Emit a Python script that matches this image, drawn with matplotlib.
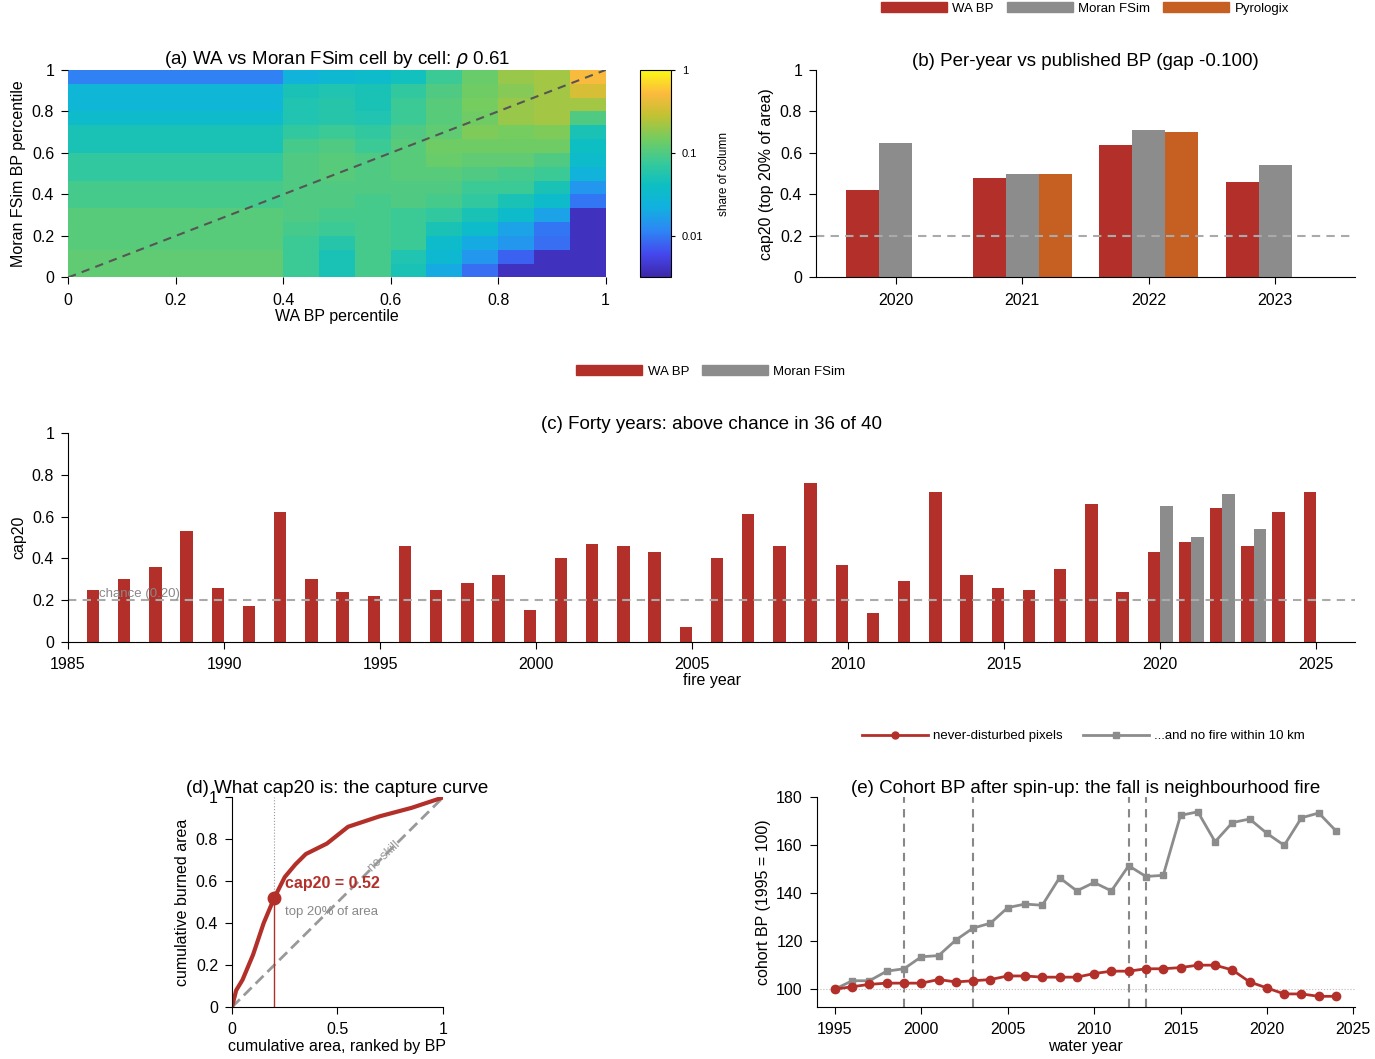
import numpy as np
import matplotlib
matplotlib.use("Agg")
import matplotlib.pyplot as plt
from matplotlib.colors import LinearSegmentedColormap, LogNorm
from matplotlib.patches import Patch
from matplotlib.lines import Line2D

plt.rcParams['font.family'] = ['Liberation Sans', 'DejaVu Sans']
plt.rcParams['font.size'] = 11.5
plt.rcParams['xtick.major.pad'] = 6
plt.rcParams['ytick.major.pad'] = 5
plt.rcParams['xtick.major.size'] = 5
plt.rcParams['ytick.major.size'] = 5

RED = "#b3302a"
GREY = "#8c8c8c"
ORANGE = "#c55f22"

# (a) share of column, rows bottom->top, columns left->right
x_edges = [0, 0.4, 0.4667, 0.5333, 0.6, 0.6667, 0.7333, 0.8, 0.8667, 0.9333, 1.0]
share_cols = [
    [0.12, 0.12, 0.11, 0.11, 0.11, 0.09, 0.09, 0.07, 0.07, 0.05, 0.05, 0.035, 0.028, 0.028, 0.011],
    [0.08, 0.08, 0.08, 0.09, 0.1, 0.1, 0.1, 0.1, 0.1, 0.09, 0.07, 0.055, 0.055, 0.05, 0.025],
    [0.05, 0.05, 0.06, 0.08, 0.09, 0.1, 0.1, 0.11, 0.11, 0.1, 0.08, 0.06, 0.06, 0.055, 0.03],
    [0.09, 0.09, 0.09, 0.09, 0.09, 0.09, 0.1, 0.1, 0.1, 0.08, 0.07, 0.055, 0.05, 0.05, 0.035],
    [0.05, 0.055, 0.08, 0.08, 0.08, 0.1, 0.1, 0.11, 0.11, 0.11, 0.1, 0.08, 0.08, 0.07, 0.045],
    [0.02, 0.03, 0.035, 0.05, 0.07, 0.09, 0.1, 0.11, 0.13, 0.14, 0.12, 0.11, 0.11, 0.1, 0.08],
    [0.009, 0.015, 0.02, 0.035, 0.05, 0.07, 0.08, 0.1, 0.12, 0.14, 0.16, 0.14, 0.15, 0.14, 0.13],
    [0.004, 0.008, 0.015, 0.018, 0.035, 0.05, 0.08, 0.09, 0.12, 0.14, 0.15, 0.2, 0.2, 0.17, 0.2],
    [0.004, 0.004, 0.009, 0.01, 0.018, 0.035, 0.05, 0.08, 0.1, 0.14, 0.16, 0.22, 0.22, 0.22, 0.22],
    [0.004, 0.004, 0.004, 0.004, 0.004, 0.01, 0.015, 0.025, 0.035, 0.04, 0.05, 0.1, 0.22, 0.35, 0.5],
]

# (b)
b_years = ["2020", "2021", "2022", "2023"]
b_wa = [0.42, 0.48, 0.64, 0.46]
b_moran = [0.65, 0.50, 0.71, 0.54]
b_pyro = [None, 0.50, 0.70, None]

# (c)
c_years = list(range(1986, 2026))
c_wa = [0.25, 0.30, 0.36, 0.53, 0.26, 0.17, 0.62, 0.30, 0.24, 0.22,
        0.46, 0.25, 0.28, 0.32, 0.15, 0.40, 0.47, 0.46, 0.43, 0.07,
        0.40, 0.61, 0.46, 0.76, 0.37, 0.14, 0.29, 0.72, 0.32, 0.26,
        0.25, 0.35, 0.66, 0.24, 0.43, 0.48, 0.64, 0.46, 0.62, 0.72]
c_moran_years = [2020, 2021, 2022, 2023]
c_moran = [0.65, 0.50, 0.71, 0.54]

# (d)
d_x = [0, 0.02, 0.05, 0.1, 0.15, 0.2, 0.25, 0.3, 0.35, 0.45, 0.55, 0.7, 0.85, 1.0]
d_y = [0, 0.08, 0.13, 0.25, 0.4, 0.52, 0.62, 0.68, 0.73, 0.78, 0.86, 0.91, 0.95, 1.0]

# (e)
e_years = list(range(1995, 2025))
e_never = [100, 101, 102, 102.5, 102.5, 102.5, 104, 103, 103.5, 104,
           105.5, 105.5, 105, 105, 105, 106.5, 107.5, 107.5, 108.5, 108.5,
           109, 110, 110, 108, 103, 100.5, 98, 98, 97, 97]
e_nofire = [100, 103.5, 103.5, 107.5, 108.5, 113.5, 114, 120.5, 125.5, 127.5,
            134, 135.5, 135, 146.5, 141, 144.5, 141, 151.5, 147, 147.5,
            172.5, 174, 161.5, 169.5, 171, 165, 160, 171.5, 173.5, 166]
e_vlines = [1999, 2003, 2012, 2013]

parula = LinearSegmentedColormap.from_list("parula", [
    (0.24, 0.15, 0.66), (0.27, 0.28, 0.93), (0.18, 0.52, 0.96), (0.07, 0.69, 0.88),
    (0.05, 0.75, 0.76), (0.22, 0.79, 0.60), (0.45, 0.80, 0.38), (0.75, 0.76, 0.20),
    (0.99, 0.73, 0.24), (0.98, 0.98, 0.08)])

TICKS01 = [0, 0.2, 0.4, 0.6, 0.8, 1]
LAB01 = ["0", "0.2", "0.4", "0.6", "0.8", "1"]


def strip(ax):
    ax.spines['top'].set_visible(False)
    ax.spines['right'].set_visible(False)


fig = plt.figure(figsize=(13.75, 10.59), dpi=100)

# ---- (a)
ax = fig.add_axes([0.0495, 0.738, 0.391, 0.196])
C = np.array(share_cols).T
y_edges = np.linspace(0, 1, 16)
mesh = ax.pcolormesh(x_edges, y_edges, C, cmap=parula, norm=LogNorm(0.0032, 1))
ax.plot([0, 1], [0, 1], ls=(0, (4, 3)), color="#555555", lw=1.5)
ax.set_xlim(0, 1); ax.set_ylim(0, 1)
ax.set_xticks(TICKS01); ax.set_xticklabels(LAB01)
ax.set_yticks(TICKS01); ax.set_yticklabels(LAB01)
ax.set_xlabel("WA BP percentile", labelpad=1)
ax.set_ylabel("Moran FSim BP percentile")
ax.set_title(r"(a) WA vs Moran FSim cell by cell: $\rho$ 0.61", fontsize=13.5, pad=2)
for s in ax.spines.values():
    s.set_visible(False)
cax = fig.add_axes([0.4655, 0.738, 0.0225, 0.196])
cb = fig.colorbar(mesh, cax=cax)
cb.set_ticks([0.01, 0.1, 1]); cb.set_ticklabels(["0.01", "0.1", "1"])
cb.ax.tick_params(labelsize=8, which='both', length=3)
cb.ax.minorticks_off()
cb.set_label("share of column", fontsize=8.5, labelpad=10)

# ---- (b)
ax = fig.add_axes([0.5935, 0.738, 0.392, 0.196])
strip(ax)
w = 0.26
xb = np.arange(len(b_years))
ax.bar(xb - w, b_wa, w, color=RED)
ax.bar(xb, b_moran, w, color=GREY)
for i, v in enumerate(b_pyro):
    if v is not None:
        ax.bar(xb[i] + w, v, w, color=ORANGE)
ax.axhline(0.2, color="#aaaaaa", ls=(0, (4, 3)), lw=1.5)
ax.set_xticks(xb); ax.set_xticklabels(b_years)
ax.set_xlim(-0.63, 3.63); ax.set_ylim(0, 1)
ax.set_yticks(TICKS01); ax.set_yticklabels(LAB01)
ax.set_ylabel("cap20 (top 20% of area)")
ax.set_title("(b) Per-year vs published BP (gap -0.100)", fontsize=13.5, pad=2)
hb = [Patch(color=RED, label="WA BP"), Patch(color=GREY, label="Moran FSim"), Patch(color=ORANGE, label="Pyrologix")]
fig.legend(handles=hb, loc="center", bbox_to_anchor=(0.789, 0.992), ncol=3, frameon=False,
           fontsize=9.5, handlelength=5, handleheight=0.8, columnspacing=1, handletextpad=0.4)

# ---- (c)
ax = fig.add_axes([0.0495, 0.394, 0.936, 0.197])
strip(ax)
ax.bar(np.array(c_years) - 0.2, c_wa, 0.4, color=RED)
ax.bar(np.array(c_moran_years) + 0.2, c_moran, 0.4, color=GREY)
ax.axhline(0.2, color="#aaaaaa", ls=(0, (4, 3)), lw=1.5)
ax.text(1986.0, 0.2, "chance (0.20)", color="#888888", fontsize=9.5, va="bottom")
ax.set_xlim(1985, 2026.25); ax.set_ylim(0, 1)
ax.set_xticks(range(1985, 2026, 5))
ax.set_yticks(TICKS01); ax.set_yticklabels(LAB01)
ax.set_xlabel("fire year", labelpad=1)
ax.set_ylabel("cap20")
ax.set_title("(c) Forty years: above chance in 36 of 40", fontsize=13.5, pad=2)
hc = [Patch(color=RED, label="WA BP"), Patch(color=GREY, label="Moran FSim")]
fig.legend(handles=hc, loc="center", bbox_to_anchor=(0.517, 0.649), ncol=2, frameon=False,
           fontsize=9.5, handlelength=5, handleheight=0.8, columnspacing=1, handletextpad=0.4)

# ---- (d)
ax = fig.add_axes([0.1687, 0.049, 0.1535, 0.198])
strip(ax)
ax.plot([0, 1], [0, 1], color="#999999", ls=(0, (4, 2)), lw=2)
ax.plot(d_x, d_y, color=RED, lw=3)
ax.plot([0.2, 0.2], [0, 0.52], color=RED, lw=1)
ax.plot([0.2, 0.2], [0.52, 1], color="#999999", ls=":", lw=0.8)
ax.plot(0.2, 0.52, "o", color=RED, ms=9)
ax.text(0.25, 0.59, "cap20 = 0.52", color=RED, fontsize=11.5, fontweight="bold", va="center")
ax.text(0.25, 0.455, "top 20% of area", color="#888888", fontsize=9.5, va="center")
ax.text(0.72, 0.72, "no skill", color="#999999", fontsize=9, rotation=43, ha="center", va="center")
ax.set_xlim(0, 1); ax.set_ylim(0, 1)
ax.set_xticks([0, 0.5, 1]); ax.set_xticklabels(["0", "0.5", "1"])
ax.set_yticks(TICKS01); ax.set_yticklabels(LAB01)
ax.set_xlabel("cumulative area, ranked by BP", labelpad=1)
ax.set_ylabel("cumulative burned area")
ax.set_title("(d) What cap20 is: the capture curve", fontsize=13.5, pad=2)

# ---- (e)
ax = fig.add_axes([0.594, 0.049, 0.3915, 0.198])
strip(ax)
for v in e_vlines:
    ax.axvline(v, color="#888888", ls=(0, (4, 3)), lw=1.5)
ax.axhline(100, color="#bbbbbb", ls=":", lw=0.8)
ax.plot(e_years, e_nofire, color=GREY, marker="s", ms=5, lw=2)
ax.plot(e_years, e_never, color=RED, marker="o", ms=6, lw=2)
ax.set_xlim(1993.95, 2025.1); ax.set_ylim(92.5, 180)
ax.set_xticks(range(1995, 2026, 5))
ax.set_yticks(range(100, 181, 20))
ax.set_xlabel("water year", labelpad=1)
ax.set_ylabel("cohort BP (1995 = 100)")
ax.set_title("(e) Cohort BP after spin-up: the fall is neighbourhood fire", fontsize=13.5, pad=2)
he = [Line2D([], [], color=RED, marker="o", ms=5, lw=2, label="never-disturbed pixels"),
      Line2D([], [], color=GREY, marker="s", ms=4, lw=2, label="...and no fire within 10 km")]
fig.legend(handles=he, loc="center", bbox_to_anchor=(0.788, 0.305), ncol=2, frameon=False,
           fontsize=9.5, handlelength=5, columnspacing=1.5, handletextpad=0.4)

fig.savefig("out.png", dpi=100)
